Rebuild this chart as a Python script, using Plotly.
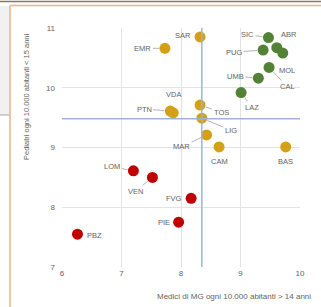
import plotly.graph_objects as go

# ---- data ----
regions = ["SAR", "EMR", "SIC", "ABR", "MOL", "CAL", "PUG", "UMB", "LAZ",
           "VDA", "PTN", "TOS", "LIG", "MAR", "CAM", "BAS",
           "LOM", "VEN", "PBZ", "FVG", "PIE"]
medici_mg = [8.32, 7.73, 9.47, 9.61, 9.71, 9.48, 9.38, 9.30, 9.01,
             7.87, 7.82, 8.32, 8.35, 8.43, 8.64, 9.76,
             7.20, 7.52, 6.26, 8.17, 7.96]
pediatri = [10.85, 10.66, 10.84, 10.67, 10.58, 10.34, 10.63, 10.16, 9.92,
            9.58, 9.61, 9.71, 9.49, 9.21, 9.01, 9.01,
            8.61, 8.50, 7.55, 8.15, 7.75]
group = ["mid", "mid", "high", "high", "high", "high", "high", "high", "high",
         "mid", "mid", "mid", "mid", "mid", "mid", "mid",
         "low", "low", "low", "low", "low"]
avg_mg = 8.35
avg_ped = 9.48
x_ticks = [6, 7, 8, 9, 10]
y_ticks = [7, 8, 9, 10, 11]
x_title = "Medici di MG ogni 10.000 abitanti > 14 anni"
y_title = "Pediatri ogni 10.000 abitanti < 15 anni"

# ---- styles ----
colors = {"high": "#538135", "mid": "#d4a017", "low": "#c00000"}
# label offsets in pixels (dx, dy screen-down), leader line flag
label_pos = {
    "SAR": (-17, -1, False), "EMR": (-22, 0, True), "SIC": (-21, -3, True),
    "ABR": (12, -13, False), "MOL": (4, 17, False), "CAL": (18, 19, True),
    "PUG": (-29, 2, True), "UMB": (-23, -2, True), "LAZ": (11, 15, True),
    "VDA": (0, -18, False), "PTN": (-26, -2, True), "TOS": (21, 7, True),
    "LIG": (29, 12, True), "MAR": (-25, 12, True), "CAM": (0, 15, False),
    "BAS": (0, 15, False), "LOM": (-21, -4, True), "VEN": (-17, 14, True),
    "PBZ": (17, 1, False), "FVG": (-17, 0, False), "PIE": (-15, 0, False),
}

W, H = 321, 307
L, R, T, B = 62, 300, 28, 267
FONT = "Liberation Sans, Arial, sans-serif"
GRAY = "#636363"

fig = go.Figure()
for g in ["high", "mid", "low"]:
    idx = [i for i, gg in enumerate(group) if gg == g]
    fig.add_trace(go.Scatter(
        x=[medici_mg[i] for i in idx], y=[pediatri[i] for i in idx],
        mode="markers", marker=dict(size=11, color=colors[g]),
        hoverinfo="text", text=[regions[i] for i in idx], showlegend=False))

annotations = []
label_font = dict(family=FONT, size=7.5, color=GRAY)
for r, xv, yv in zip(regions, medici_mg, pediatri):
    dx, dy, lead = label_pos[r]
    if lead:
        annotations.append(dict(x=xv, y=yv, xref="x", yref="y", text=r,
                                showarrow=True, arrowhead=0, arrowwidth=0.8,
                                arrowcolor="#a0a0a0", ax=dx, ay=dy, standoff=6,
                                font=label_font))
    else:
        annotations.append(dict(x=xv, y=yv, xref="x", yref="y", text=r,
                                showarrow=False, xshift=dx, yshift=-dy,
                                font=label_font))

def px_x(p):
    return (p - L) / (R - L)

def px_y(p):
    return (B - p) / (B - T)

annotations.append(dict(x=px_x(155), y=px_y(296), xref="paper", yref="paper",
                        xanchor="left", yanchor="middle", showarrow=False,
                        text=x_title, font=dict(family=FONT, size=8, color=GRAY)))
annotations.append(dict(x=px_x(26), y=px_y(97), xref="paper", yref="paper",
                        xanchor="center", yanchor="middle", showarrow=False,
                        textangle=-90, text=y_title,
                        font=dict(family=FONT, size=7.5, color=GRAY)))

shapes = [
    # average lines
    dict(type="line", xref="x", yref="paper", x0=avg_mg, x1=avg_mg, y0=0, y1=1,
         line=dict(color="#9db3d8", width=1.5)),
    dict(type="line", xref="paper", yref="y", x0=0, x1=1, y0=avg_ped, y1=avg_ped,
         line=dict(color="#9db3d8", width=1.5)),
    # frame decorations
    dict(type="rect", xref="paper", yref="paper", x0=px_x(0), x1=px_x(10),
         y0=px_y(115), y1=px_y(6), fillcolor="#f1f1f1", line=dict(width=0), layer="below"),
    dict(type="line", xref="paper", yref="paper", x0=px_x(0), x1=px_x(10),
         y0=px_y(115), y1=px_y(115), line=dict(color="#a6a6a6", width=1)),
    dict(type="line", xref="paper", yref="paper", x0=px_x(0), x1=px_x(321),
         y0=px_y(1.5), y1=px_y(1.5), line=dict(color="#8a7760", width=1.5)),
    dict(type="line", xref="paper", yref="paper", x0=px_x(10), x1=px_x(321),
         y0=px_y(5.5), y1=px_y(5.5), line=dict(color="#f5b27c", width=1.5)),
    dict(type="line", xref="paper", yref="paper", x0=px_x(10), x1=px_x(10),
         y0=px_y(5.5), y1=px_y(307), line=dict(color="#f5b27c", width=1.5)),
]

axis_font = dict(family=FONT, size=8, color=GRAY)
fig.update_layout(
    width=W, height=H,
    margin=dict(l=L, r=W - R, t=T, b=H - B),
    paper_bgcolor="white", plot_bgcolor="white",
    xaxis=dict(range=[6, 10], tickvals=x_ticks, showgrid=True, gridcolor="#e3e3e3",
               gridwidth=1, zeroline=False, showline=False, tickfont=axis_font,
               ticks="", fixedrange=True),
    yaxis=dict(range=[7, 11], tickvals=y_ticks, showgrid=True, gridcolor="#e3e3e3",
               gridwidth=1, zeroline=False, showline=False, tickfont=axis_font,
               ticks="", ticklabelstandoff=6, fixedrange=True),
    annotations=annotations, shapes=shapes, showlegend=False,
)

fig.write_html("out.html", config={"displayModeBar": False},
               post_script="document.body.style.margin='0';document.body.style.overflow='hidden';")
